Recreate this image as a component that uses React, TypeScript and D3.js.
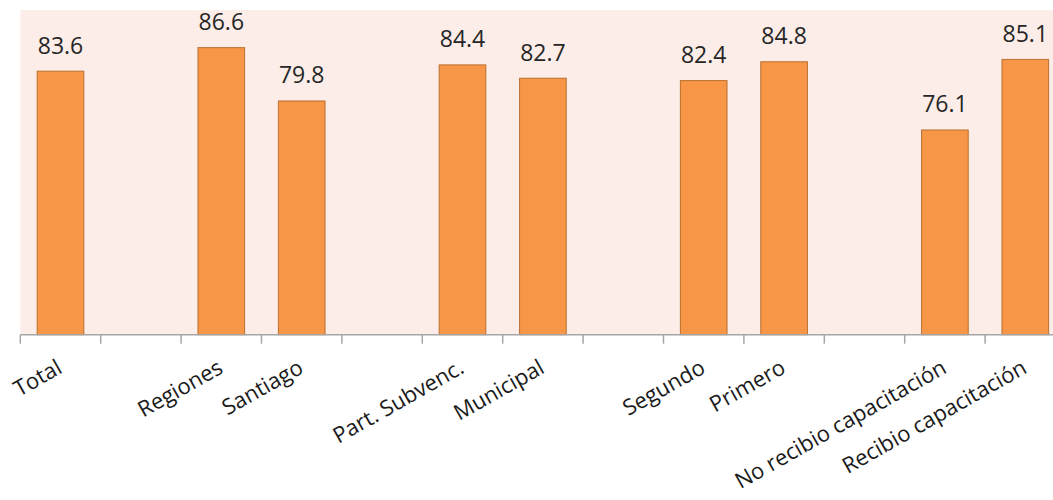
import React from "react";
import * as d3 from "d3";

const categories: string[] = [
  "Total",
  "",
  "Regiones",
  "Santiago",
  "",
  "Part. Subvenc.",
  "Municipal",
  "",
  "Segundo",
  "Primero",
  "",
  "No recibio capacitación",
  "Recibio capacitación",
];
const values: (number | null)[] = [83.6, null, 86.6, 79.8, null, 84.4, 82.7, null, 82.4, 84.8, null, 76.1, 85.1];
const yDomain: [number, number] = [50, 91.4];

const W = 1053;
const H = 500;
const FONT = "'Open Sans', 'DejaVu Sans', sans-serif";

export default function App() {
  const idx = categories.map((_, i) => String(i));
  const left = 20.3;
  const right = 1065.5;
  const top = 10;
  const bottom = 334.7;

  const slot = d3.scaleBand<string>().domain(idx).range([left, right]).padding(0);
  const x = d3
    .scaleBand<string>()
    .domain(idx)
    .range([left, right])
    .paddingInner(0.42)
    .paddingOuter(0.21);
  const y = d3.scaleLinear().domain(yDomain).range([bottom, top]);

  const tickPos = idx.map((k) => slot(k) as number);
  tickPos.push(right);

  return (
    <svg
      width={W}
      height={H}
      style={{ position: "absolute", left: 0, top: 0, background: "#ffffff" }}
    >
      <rect x={left} y={top} width={right - left} height={bottom - top} fill="#FCEDE8" />
      {values.map((v, i) =>
        v == null ? null : (
          <g key={i}>
            <rect
              x={x(String(i))}
              y={y(v)}
              width={x.bandwidth()}
              height={bottom - y(v)}
              fill="#F79646"
              stroke="#B9702F"
              strokeWidth={1}
            />
            <text
              x={(x(String(i)) as number) + x.bandwidth() / 2}
              y={y(v) - 17.5}
              textAnchor="middle"
              fontFamily={FONT}
              fontSize={23}
              fill="#262626"
            >
              {d3.format(".1f")(v)}
            </text>
          </g>
        )
      )}
      <line x1={left} x2={right} y1={bottom} y2={bottom} stroke="#A6A6A6" strokeWidth={1.5} />
      {tickPos.map((t, i) => (
        <line key={i} x1={t} x2={t} y1={bottom} y2={bottom + 9} stroke="#A6A6A6" strokeWidth={1.5} />
      ))}
      {categories.map((c, i) =>
        c === "" ? null : (
          <text
            key={"l" + i}
            transform={`translate(${(slot(String(i)) as number) + slot.bandwidth() / 2 + 3},${372}) rotate(-29.5)`}
            textAnchor="end"
            fontFamily={FONT}
            fontSize={22}
            fill="#1a1a1a"
          >
            {c}
          </text>
        )
      )}
    </svg>
  );
}
